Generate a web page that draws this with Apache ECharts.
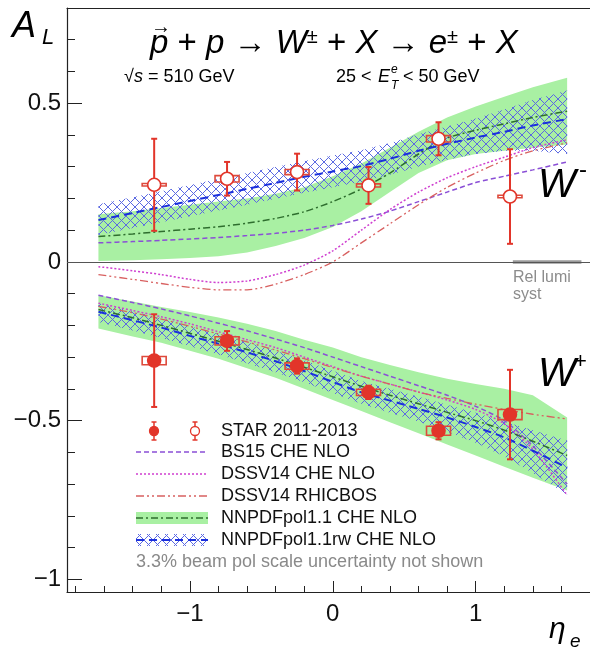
<!DOCTYPE html>
<html>
<head>
<meta charset="utf-8">
<title>STAR W A_L vs eta</title>
<script src="https://cdn.jsdelivr.net/npm/echarts@6/dist/echarts.min.js"></script>
<style>
    html, body { margin: 0; padding: 0; background: #fff; }
    #al-chart { width: 590px; height: 650px; }
</style>
</head>
<body>
<div id="al-chart"></div>
<script>
// STAR 2011-2013 points
const etaData = [-1.25, -0.74, -0.25, 0.25, 0.74, 1.24];
const wMinusAL = [0.243, 0.262, 0.283, 0.241, 0.388, 0.206];
const wMinusStat = [0.145, 0.053, 0.058, 0.058, 0.052, 0.149];
const wMinusSyst = [0.004, 0.010, 0.008, 0.005, 0.010, 0.004];
const wPlusAL = [-0.311, -0.249, -0.328, -0.411, -0.532, -0.481];
const wPlusStat = [0.146, 0.031, 0.024, 0.021, 0.027, 0.141];
const wPlusSyst = [0.013, 0.013, 0.010, 0.010, 0.014, 0.016];
const boxHalfWidth = 0.084;

// theory curves
const thEta = [-1.64, -1.4, -1.2, -1.0, -0.8, -0.6, -0.4, -0.2, 0.0, 0.2, 0.4, 0.6, 0.8, 1.0, 1.2, 1.4, 1.64];
const bs15WMinus = [0.060, 0.064, 0.068, 0.072, 0.077, 0.083, 0.090, 0.100, 0.115, 0.135, 0.160, 0.190, 0.220, 0.250, 0.270, 0.290, 0.315];
const dssvWMinus = [-0.015, -0.028, -0.040, -0.055, -0.065, -0.060, -0.040, -0.010, 0.035, 0.100, 0.165, 0.220, 0.265, 0.300, 0.330, 0.360, 0.385];
const rhicbosWMinus = [-0.040, -0.055, -0.068, -0.080, -0.088, -0.088, -0.070, -0.040, 0.000, 0.060, 0.120, 0.180, 0.235, 0.280, 0.320, 0.350, 0.375];
const nnpdfWMinus = [0.080, 0.088, 0.096, 0.103, 0.111, 0.122, 0.137, 0.158, 0.190, 0.230, 0.280, 0.340, 0.390, 0.415, 0.435, 0.455, 0.475];
const nnpdfWMinusLo = [0.003, 0.005, 0.008, 0.012, 0.018, 0.030, 0.050, 0.075, 0.110, 0.160, 0.220, 0.280, 0.320, 0.340, 0.350, 0.360, 0.370];
const nnpdfWMinusHi = [0.150, 0.160, 0.170, 0.180, 0.190, 0.200, 0.215, 0.235, 0.270, 0.310, 0.360, 0.410, 0.455, 0.490, 0.520, 0.550, 0.580];
const rwWMinus = [0.132, 0.154, 0.173, 0.192, 0.211, 0.230, 0.249, 0.268, 0.285, 0.302, 0.325, 0.350, 0.372, 0.392, 0.410, 0.430, 0.450];
const rwWMinusLo = [0.085, 0.107, 0.125, 0.144, 0.162, 0.180, 0.199, 0.218, 0.235, 0.252, 0.275, 0.300, 0.322, 0.340, 0.350, 0.350, 0.340];
const rwWMinusHi = [0.182, 0.204, 0.223, 0.242, 0.261, 0.280, 0.299, 0.318, 0.335, 0.352, 0.375, 0.402, 0.427, 0.452, 0.480, 0.510, 0.540];

const bs15WPlus = [-0.105, -0.128, -0.148, -0.170, -0.193, -0.217, -0.243, -0.270, -0.300, -0.330, -0.360, -0.390, -0.420, -0.455, -0.500, -0.580, -0.700];
const dssvWPlus = [-0.130, -0.153, -0.173, -0.195, -0.220, -0.245, -0.270, -0.300, -0.330, -0.360, -0.385, -0.410, -0.435, -0.465, -0.510, -0.590, -0.735];
const rhicbosWPlus = [-0.140, -0.160, -0.180, -0.203, -0.227, -0.252, -0.278, -0.305, -0.333, -0.360, -0.385, -0.410, -0.430, -0.448, -0.465, -0.480, -0.495];
const nnpdfWPlus = [-0.150, -0.176, -0.200, -0.225, -0.250, -0.276, -0.303, -0.332, -0.362, -0.392, -0.420, -0.447, -0.474, -0.500, -0.530, -0.565, -0.610];
const nnpdfWPlusLo = [-0.210, -0.235, -0.255, -0.280, -0.305, -0.335, -0.365, -0.400, -0.435, -0.470, -0.505, -0.540, -0.575, -0.610, -0.645, -0.680, -0.720];
const nnpdfWPlusHi = [-0.105, -0.125, -0.142, -0.158, -0.175, -0.195, -0.218, -0.245, -0.270, -0.300, -0.325, -0.348, -0.368, -0.385, -0.400, -0.420, -0.490];
const rwWPlus = [-0.157, -0.184, -0.207, -0.233, -0.258, -0.285, -0.313, -0.344, -0.378, -0.411, -0.437, -0.463, -0.490, -0.520, -0.553, -0.595, -0.648];
const rwWPlusLo = [-0.189, -0.216, -0.240, -0.266, -0.292, -0.319, -0.348, -0.379, -0.413, -0.447, -0.475, -0.503, -0.535, -0.570, -0.613, -0.665, -0.733];
const rwWPlusHi = [-0.130, -0.156, -0.177, -0.203, -0.227, -0.253, -0.280, -0.310, -0.343, -0.375, -0.400, -0.425, -0.450, -0.475, -0.503, -0.530, -0.563];

// rel lumi systematic marker on the zero line
const relLumiEta = [1.26, 1.74];
const relLumiAL = [0, 0];

// axes
const xMajorTicks = [-1, 0, 1];
const xMinorTicks = [-1.8, -1.6, -1.4, -1.2, -0.8, -0.6, -0.4, -0.2, 0.2, 0.4, 0.6, 0.8, 1.2, 1.4, 1.6, 1.8];
const yMajorTicks = [-1, -0.5, 0, 0.5];
const yMinorTicks = [-0.9, -0.8, -0.7, -0.6, -0.4, -0.3, -0.2, -0.1, 0.1, 0.2, 0.3, 0.4, 0.6, 0.7];

(function () {
    const FONT = '"Liberation Sans", Arial, Helvetica, sans-serif';
    const RED = '#e2352a';
    const GREEN_FILL = '#a9f0a3';

    function makeHatch() {
        const c = document.createElement('canvas');
        c.width = 9;
        c.height = 9;
        const g = c.getContext('2d');
        g.strokeStyle = '#5b69e2';
        g.lineWidth = 1;
        g.beginPath();
        g.moveTo(0, 0); g.lineTo(9, 9);
        g.moveTo(9, 0); g.lineTo(0, 9);
        g.stroke();
        return { image: c, repeat: 'repeat' };
    }

    function pairs(xs, ys) {
        return xs.map((x, i) => [x, ys[i]]);
    }

    function minusSign(v) {
        return String(v).replace('-', '\u2212');
    }

    function bandSeries(lower, upper, fill) {
        return {
            type: 'custom',
            silent: true,
            clip: true,
            data: [[0, 0]],
            renderItem: function (params, api) {
                const pts = [];
                thEta.forEach((x, i) => pts.push(api.coord([x, upper[i]])));
                for (let i = thEta.length - 1; i >= 0; i--) {
                    pts.push(api.coord([thEta[i], lower[i]]));
                }
                return { type: 'polygon', shape: { points: pts }, style: { fill: fill } };
            }
        };
    }

    function curveSeries(ys, color, width, dash) {
        return {
            type: 'line',
            silent: true,
            showSymbol: false,
            smooth: 0.25,
            data: pairs(thEta, ys),
            lineStyle: { color: color, width: width, type: dash }
        };
    }

    function pointSeries(al, stat, syst, filled) {
        return {
            type: 'custom',
            silent: true,
            z: 5,
            data: etaData.map((x, i) => [x, al[i], stat[i], syst[i]]),
            renderItem: function (params, api) {
                const x = api.value(0), y = api.value(1), st = api.value(2), sy = api.value(3);
                const c = api.coord([x, y]);
                const top = api.coord([x, y + st]);
                const bot = api.coord([x, y - st]);
                const b1 = api.coord([x - boxHalfWidth, y + sy]);
                const b2 = api.coord([x + boxHalfWidth, y - sy]);
                const line = { stroke: RED, lineWidth: 2 };
                return {
                    type: 'group',
                    children: [
                        { type: 'rect', shape: { x: b1[0], y: b1[1], width: b2[0] - b1[0], height: Math.max(b2[1] - b1[1], 1) },
                          style: { fill: 'none', stroke: '#de4a3c', lineWidth: 1.6 } },
                        { type: 'line', shape: { x1: top[0], y1: top[1], x2: bot[0], y2: bot[1] }, style: line },
                        { type: 'line', shape: { x1: top[0] - 3, y1: top[1], x2: top[0] + 3, y2: top[1] }, style: line },
                        { type: 'line', shape: { x1: bot[0] - 3, y1: bot[1], x2: bot[0] + 3, y2: bot[1] }, style: line },
                        { type: 'circle', shape: { cx: c[0], cy: c[1], r: 6.5 },
                          style: { fill: filled ? RED : '#fff', stroke: RED, lineWidth: 1.6 } }
                    ]
                };
            }
        };
    }

    function legendGraphics(hatch) {
        const g = [];
        const rowY = [431, 452, 474, 496, 518, 540];
        const x0 = 136, x1 = 208, tx = 221;
        const labels = ['STAR 2011-2013', 'BS15 CHE NLO', 'DSSV14 CHE NLO', 'DSSV14 RHICBOS',
            'NNPDFpol1.1 CHE NLO', 'NNPDFpol1.1rw CHE NLO'];
        labels.forEach((t, i) => {
            g.push({ type: 'text', x: tx, y: rowY[i], z: 20,
                style: { text: t, font: '18px ' + FONT, fill: '#111', textVerticalAlign: 'middle' } });
        });
        const sym = function (cx, filled) {
            const cy = rowY[0];
            const ls = { stroke: RED, lineWidth: 1.5 };
            g.push({ type: 'line', z: 20, shape: { x1: cx, y1: cy - 9, x2: cx, y2: cy + 9 }, style: ls });
            g.push({ type: 'line', z: 20, shape: { x1: cx - 2.5, y1: cy - 9, x2: cx + 2.5, y2: cy - 9 }, style: ls });
            g.push({ type: 'line', z: 20, shape: { x1: cx - 2.5, y1: cy + 9, x2: cx + 2.5, y2: cy + 9 }, style: ls });
            g.push({ type: 'circle', z: 21, shape: { cx: cx, cy: cy, r: 4.5 },
                style: { fill: filled ? RED : '#fff', stroke: RED, lineWidth: 1.3 } });
        };
        sym(154, true);
        sym(195, false);
        const seg = function (y, color, width, dash) {
            g.push({ type: 'line', z: 20, shape: { x1: x0, y1: y, x2: x1, y2: y },
                style: { stroke: color, lineWidth: width, lineDash: dash } });
        };
        seg(rowY[1], '#8a4fd6', 1.5, [5, 3]);
        seg(rowY[2], '#cf3fd0', 1.5, [2, 2]);
        seg(rowY[3], '#d86060', 1.3, [8, 3, 2, 3, 2, 3]);
        g.push({ type: 'rect', z: 19, shape: { x: x0, y: rowY[4] - 6, width: x1 - x0, height: 12 }, style: { fill: GREEN_FILL } });
        seg(rowY[4], '#2e6e2e', 1.5, [7, 3, 2, 3]);
        g.push({ type: 'rect', z: 19, shape: { x: x0, y: rowY[5] - 6, width: x1 - x0, height: 12 }, style: { fill: hatch } });
        seg(rowY[5], '#1a2fdd', 2, [8, 5]);
        g.push({ type: 'text', x: x0, y: 562, z: 20,
            style: { text: '3.3% beam pol scale uncertainty not shown', font: '18px ' + FONT, fill: '#8a8a8a', textVerticalAlign: 'middle' } });
        return g;
    }

    function textGraphics() {
        const it = 'italic ';
        return [
            { type: 'text', x: 12, y: 27, style: { text: 'A', font: it + '36px ' + FONT, fill: '#000', textVerticalAlign: 'middle' } },
            { type: 'text', x: 42, y: 38, style: { text: 'L', font: it + '22px ' + FONT, fill: '#000', textVerticalAlign: 'middle' } },
            { type: 'text', x: 151, y: 27, style: { text: '\u2192', font: '20px ' + FONT, fill: '#000', textVerticalAlign: 'middle' } },
            { type: 'text', x: 150, y: 44, style: {
                text: '{i|p} + {i|p} \u2192 {i|W}{s|\u00b1} + {i|X} \u2192 {i|e}{s|\u00b1} + {i|X}',
                font: '33px ' + FONT, fill: '#000', textVerticalAlign: 'middle',
                rich: {
                    i: { fontStyle: 'italic', fontSize: 33, fontFamily: FONT, fill: '#000' },
                    s: { fontSize: 20, fontFamily: FONT, verticalAlign: 'top', padding: [0, 0, 10, 0], fill: '#000' }
                } } },
            { type: 'text', x: 124, y: 77, style: {
                text: '\u221a{i|s} = 510 GeV', font: '18px ' + FONT, fill: '#000', textVerticalAlign: 'middle',
                rich: { i: { fontStyle: 'italic', fontSize: 18, fontFamily: FONT } } } },
            { type: 'text', x: 336, y: 77, style: { text: '25 <', font: '18px ' + FONT, fill: '#000', textVerticalAlign: 'middle' } },
            { type: 'text', x: 378, y: 77, style: { text: 'E', font: it + '18px ' + FONT, fill: '#000', textVerticalAlign: 'middle' } },
            { type: 'text', x: 391, y: 70, style: { text: 'e', font: it + '12px ' + FONT, fill: '#000', textVerticalAlign: 'middle' } },
            { type: 'text', x: 391, y: 86, style: { text: 'T', font: it + '12px ' + FONT, fill: '#000', textVerticalAlign: 'middle' } },
            { type: 'text', x: 403, y: 77, style: { text: '< 50 GeV', font: '18px ' + FONT, fill: '#000', textVerticalAlign: 'middle' } },
            { type: 'text', x: 538, y: 186, style: { text: 'W', font: it + '40px ' + FONT, fill: '#000', textVerticalAlign: 'middle' } },
            { type: 'text', x: 579, y: 170, style: { text: '-', font: '24px ' + FONT, fill: '#000', textVerticalAlign: 'middle' } },
            { type: 'text', x: 538, y: 375, style: { text: 'W', font: it + '40px ' + FONT, fill: '#000', textVerticalAlign: 'middle' } },
            { type: 'text', x: 574, y: 362, style: { text: '+', font: '22px ' + FONT, fill: '#000', textVerticalAlign: 'middle' } },
            { type: 'text', x: 513, y: 278, style: { text: 'Rel lumi', font: '16px ' + FONT, fill: '#8c8c8c', textVerticalAlign: 'middle' } },
            { type: 'text', x: 513, y: 295, style: { text: 'syst', font: '16px ' + FONT, fill: '#8c8c8c', textVerticalAlign: 'middle' } },
            { type: 'text', x: 549, y: 630, style: { text: '\u03b7', font: it + '30px ' + FONT, fill: '#000', textVerticalAlign: 'middle' } },
            { type: 'text', x: 570, y: 642, style: { text: 'e', font: it + '19px ' + FONT, fill: '#000', textVerticalAlign: 'middle' } }
        ];
    }

    function initAsymmetryChart() {
        const el = document.getElementById('al-chart');
        const chart = echarts.init(el, null, { renderer: 'canvas' });
        const hatch = makeHatch();
        const axisColor = '#222';
        const xRange = { min: -1.86, max: 1.8 };
        const yRange = { min: -1.04, max: 0.8 };

        const option = {
            animation: false,
            backgroundColor: '#fff',
            grid: { left: 67, right: 0, top: 8, bottom: 58, containLabel: false },
            xAxis: [
                Object.assign({ type: 'value', position: 'bottom',
                    axisLine: { onZero: false, lineStyle: { color: axisColor, width: 1.2 } },
                    axisTick: { inside: true, length: 11, customValues: xMajorTicks, lineStyle: { color: axisColor } },
                    axisLabel: { customValues: xMajorTicks, formatter: minusSign, fontSize: 24, color: '#111', fontFamily: FONT, margin: 10 },
                    splitLine: { show: false } }, xRange),
                Object.assign({ type: 'value', position: 'bottom',
                    axisLine: { show: false, onZero: false },
                    axisTick: { inside: true, length: 6, customValues: xMinorTicks, lineStyle: { color: axisColor } },
                    axisLabel: { show: false }, splitLine: { show: false } }, xRange),
                Object.assign({ type: 'value', position: 'top',
                    axisLine: { onZero: false, lineStyle: { color: axisColor, width: 1.2 } },
                    axisTick: { show: false }, axisLabel: { show: false }, splitLine: { show: false } }, xRange)
            ],
            yAxis: [
                Object.assign({ type: 'value', position: 'left',
                    axisLine: { show: true, onZero: false, lineStyle: { color: axisColor, width: 1.2 } },
                    axisTick: { show: true, inside: true, length: 15, customValues: yMajorTicks, lineStyle: { color: axisColor } },
                    axisLabel: { customValues: yMajorTicks, formatter: minusSign, fontSize: 24, color: '#111', fontFamily: FONT, margin: 6 },
                    splitLine: { show: false } }, yRange),
                Object.assign({ type: 'value', position: 'left',
                    axisLine: { show: false, onZero: false },
                    axisTick: { show: true, inside: true, length: 8, customValues: yMinorTicks, lineStyle: { color: axisColor } },
                    axisLabel: { show: false }, splitLine: { show: false } }, yRange)
            ],
            series: [
                bandSeries(nnpdfWMinusLo, nnpdfWMinusHi, GREEN_FILL),
                bandSeries(nnpdfWPlusLo, nnpdfWPlusHi, GREEN_FILL),
                bandSeries(rwWMinusLo, rwWMinusHi, hatch),
                bandSeries(rwWPlusLo, rwWPlusHi, hatch),
                curveSeries(bs15WMinus, '#8a4fd6', 1.5, [5, 3]),
                curveSeries(bs15WPlus, '#8a4fd6', 1.5, [5, 3]),
                curveSeries(dssvWMinus, '#cf3fd0', 1.5, [2, 2]),
                curveSeries(dssvWPlus, '#cf3fd0', 1.5, [2, 2]),
                curveSeries(rhicbosWMinus, '#d86060', 1.3, [8, 3, 2, 3, 2, 3]),
                curveSeries(rhicbosWPlus, '#d86060', 1.3, [8, 3, 2, 3, 2, 3]),
                curveSeries(nnpdfWMinus, '#2e6e2e', 1.5, [7, 3, 2, 3]),
                curveSeries(nnpdfWPlus, '#2e6e2e', 1.5, [7, 3, 2, 3]),
                curveSeries(rwWMinus, '#1a2fdd', 2, [8, 5]),
                curveSeries(rwWPlus, '#1a2fdd', 2, [8, 5]),
                {
                    type: 'line', silent: true, showSymbol: false, data: [],
                    markLine: { silent: true, symbol: 'none', label: { show: false },
                        lineStyle: { color: '#555', width: 1, type: 'solid' },
                        data: [{ yAxis: 0 }] }
                },
                {
                    type: 'line', silent: true, showSymbol: false, z: 4,
                    data: pairs(relLumiEta, relLumiAL),
                    lineStyle: { color: '#9a9a9a', width: 3.5 }
                },
                pointSeries(wMinusAL, wMinusStat, wMinusSyst, false),
                pointSeries(wPlusAL, wPlusStat, wPlusSyst, true)
            ],
            graphic: textGraphics().concat(legendGraphics(hatch))
        };
        chart.setOption(option);
        window.addEventListener('resize', function () {
            chart.resize();
        });
        return chart;
    }

    document.addEventListener('DOMContentLoaded', function () {
        if (typeof echarts === 'undefined') {
            console.error('ECharts not loaded');
            return;
        }
        initAsymmetryChart();
    });
})();
</script>
</body>
</html>
